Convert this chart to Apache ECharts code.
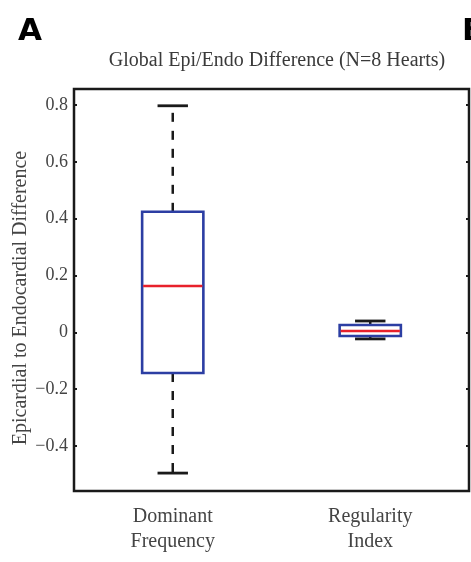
<!DOCTYPE html>
<html>
<head>
<meta charset="utf-8">
<style>
  html, body { margin: 0; padding: 0; background: #fff; }
  #chart { width: 471px; height: 562px; }
</style>
<script src="https://cdn.jsdelivr.net/npm/echarts@6/dist/echarts.min.js"></script>
</head>
<body>
<div id="chart"></div>
<script>
// box plot values
var categories = ['Dominant\nFrequency', 'Regularity\nIndex'];
var lowerWhisker = [-0.495, -0.023];
var lowerQuartile = [-0.143, -0.013];
var median = [0.163, 0.005];
var upperQuartile = [0.424, 0.026];
var upperWhisker = [0.797, 0.040];
var yTicks = [-0.4, -0.2, 0, 0.2, 0.4, 0.6, 0.8];

var serif = '"Liberation Serif", "DejaVu Serif", serif';

var boxData = [];
for (var i = 0; i < categories.length; i++) {
    boxData.push([i, lowerWhisker[i], lowerQuartile[i], median[i], upperQuartile[i], upperWhisker[i]]);
}

function fmtTick(v) {
    if (v < 0) return '\u2212' + Math.abs(v);
    return String(v);
}

function renderBox(params, api) {
    var idx = api.value(0);
    var band = api.size([1, 0])[0];
    var halfBox = band * 0.155;
    var halfCap = band * 0.077;
    var pLow = api.coord([idx, api.value(1)]);
    var pQ1 = api.coord([idx, api.value(2)]);
    var pMed = api.coord([idx, api.value(3)]);
    var pQ3 = api.coord([idx, api.value(4)]);
    var pHigh = api.coord([idx, api.value(5)]);
    var x = pMed[0];
    var black = '#1a1a1a';
    var dash = { stroke: black, lineWidth: 2.5, lineDash: [9, 9] };
    var solid = { stroke: black, lineWidth: 2.8 };
    return {
        type: 'group',
        children: [
            { type: 'line', shape: { x1: x, y1: pQ3[1], x2: x, y2: pHigh[1] }, style: dash },
            { type: 'line', shape: { x1: x, y1: pQ1[1], x2: x, y2: pLow[1] }, style: dash },
            { type: 'line', shape: { x1: x - halfCap, y1: pHigh[1], x2: x + halfCap, y2: pHigh[1] }, style: solid },
            { type: 'line', shape: { x1: x - halfCap, y1: pLow[1], x2: x + halfCap, y2: pLow[1] }, style: solid },
            {
                type: 'rect',
                shape: { x: x - halfBox, y: pQ3[1], width: halfBox * 2, height: pQ1[1] - pQ3[1] },
                style: { fill: 'none', stroke: '#2c3ea3', lineWidth: 2.6 }
            },
            {
                type: 'line',
                shape: { x1: x - halfBox + 1, y1: pMed[1], x2: x + halfBox - 1, y2: pMed[1] },
                style: { stroke: '#e8212b', lineWidth: 2.6 }
            }
        ]
    };
}

var yCommon = {
    type: 'value',
    min: -0.558,
    max: 0.856,
    splitLine: { show: false },
    axisLine: { show: false }
};

var option = {
    animation: false,
    backgroundColor: '#fff',
    title: {
        text: 'Global Epi/Endo Difference (N=8 Hearts)',
        left: 272,
        top: 46,
        textAlign: 'center',
        textStyle: { fontFamily: serif, fontSize: 20, fontWeight: 'normal', color: '#3a3a3a' }
    },
    graphic: [
        {
            type: 'text', left: 18, top: 16,
            style: { text: 'A', font: 'bold 31px "DejaVu Sans", sans-serif', fill: '#000' }
        },
        {
            type: 'text', left: 462, top: 16,
            style: { text: 'B', font: 'bold 31px "DejaVu Sans", sans-serif', fill: '#000' }
        },
        {
            type: 'text', x: 21, y: 298, rotation: Math.PI / 2,
            style: {
                text: 'Epicardial to Endocardial Difference',
                font: '20px ' + serif, fill: '#444',
                align: 'center', verticalAlign: 'middle'
            }
        }
    ],
    grid: {
        left: 74,
        right: 2,
        top: 89,
        bottom: 71,
        show: true,
        borderColor: '#1a1a1a',
        borderWidth: 2.5,
        backgroundColor: 'transparent'
    },
    xAxis: {
        type: 'category',
        data: categories,
        axisLine: { show: false },
        axisTick: { show: false },
        axisLabel: {
            margin: 13,
            fontFamily: serif,
            fontSize: 20,
            lineHeight: 25,
            color: '#444'
        }
    },
    yAxis: [
        Object.assign({}, yCommon, {
            position: 'left',
            axisTick: { show: true, inside: true, length: 3, customValues: yTicks, lineStyle: { color: '#1a1a1a', width: 2 } },
            axisLabel: {
                customValues: yTicks,
                margin: 6,
                fontFamily: serif,
                fontSize: 18,
                color: '#444',
                formatter: fmtTick
            }
        }),
        Object.assign({}, yCommon, {
            position: 'right',
            axisTick: { show: true, inside: true, length: 3, customValues: yTicks, lineStyle: { color: '#1a1a1a', width: 2 } },
            axisLabel: { show: false }
        })
    ],
    series: [{
        type: 'custom',
        renderItem: renderBox,
        encode: { x: 0, y: [1, 2, 3, 4, 5] },
        data: boxData,
        clip: false
    }]
};

var myChart = echarts.init(document.getElementById('chart'));
myChart.setOption(option);
</script>
</body>
</html>
